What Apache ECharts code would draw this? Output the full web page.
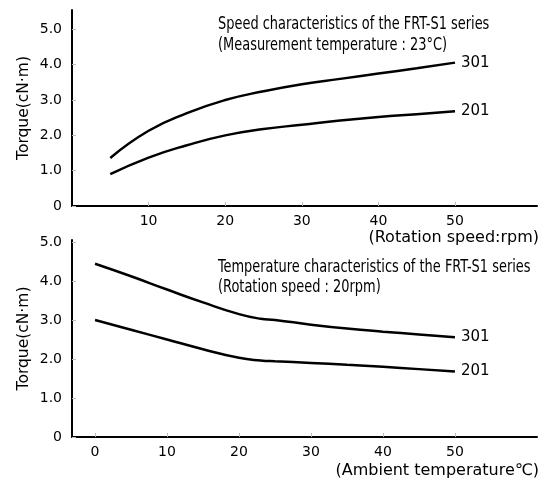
<!DOCTYPE html>
<html><head><meta charset="utf-8">
<script src="https://cdn.jsdelivr.net/npm/echarts@6/dist/echarts.min.js"></script>
<style>html,body{margin:0;padding:0;background:#fff}#c{width:546px;height:481px}</style>
</head><body><div id="c"></div>
<script>
// Top chart: speed characteristics
const speedX = [5, 10, 15, 20, 25, 30, 35, 40, 45, 50];
const speed301 = [1.36, 2.13, 2.63, 3.0, 3.25, 3.45, 3.6, 3.75, 3.9, 4.06];
const speed201 = [0.9, 1.37, 1.72, 2.0, 2.18, 2.3, 2.42, 2.52, 2.6, 2.68];
// Bottom chart: temperature characteristics
const tempX = [0, 5, 10, 15, 20, 23, 25, 30, 35, 40, 45, 50];
const temp301 = [4.44, 4.12, 3.78, 3.45, 3.15, 3.03, 3.0, 2.88, 2.78, 2.7, 2.63, 2.56];
const temp201 = [3.0, 2.75, 2.5, 2.25, 2.03, 1.96, 1.94, 1.9, 1.85, 1.8, 1.74, 1.68];
const topXTicks = [10, 20, 30, 40, 50];
const bottomXTicks = [0, 10, 20, 30, 40, 50];
const yTicks = [0, 1, 2, 3, 4, 5];
const topTitle = ['Speed characteristics of the FRT-S1 series', '(Measurement temperature : 23°C)'];
const bottomTitle = ['Temperature characteristics of the FRT-S1 series', '(Rotation speed : 20rpm)'];

const FONT = 'DejaVu Sans';
const TFONT = "'DejaVu Sans Condensed', 'Liberation Sans Narrow', 'Roboto Condensed', sans-serif";
const chart = echarts.init(document.getElementById('c'));
const yFmt = v => v === 0 ? '0' : v.toFixed(1);
function xAxis(idx, min, max, ticks, name, pad) {
  return {
    type: 'value', gridIndex: idx, min: min, max: max,
    axisLine: {show: true, onZero: false, lineStyle: {color: '#000', width: 2}},
    axisTick: {show: true, inside: true, length: 4, lineStyle: {color: '#bbb'}, customValues: ticks},
    axisLabel: {color: '#000', fontFamily: FONT, fontSize: 14, margin: 8, customValues: ticks},
    splitLine: {show: false},
    name: name, nameLocation: 'end', nameGap: 2, nameMoveOverlap: false,
    nameTextStyle: {color: '#000', fontFamily: FONT, fontSize: 16, align: 'right', verticalAlign: 'top', padding: [pad, 0, 0, 0]}
  };
}
function yAxis(idx, max) {
  return {
    type: 'value', gridIndex: idx, min: 0, max: max,
    axisLine: {show: true, onZero: false, lineStyle: {color: '#000', width: 2}},
    axisTick: {show: true, inside: true, length: 4, lineStyle: {color: '#bbb'}, customValues: yTicks},
    axisLabel: {color: '#000', fontFamily: FONT, fontSize: 14, margin: 10, formatter: yFmt, customValues: yTicks},
    splitLine: {show: false},
    name: 'Torque(cN·m)', nameLocation: 'middle', nameGap: 40, nameRotate: 90, nameMoveOverlap: false,
    nameTextStyle: {color: '#000', fontFamily: FONT, fontSize: 15.5}
  };
}
function line(name, xs, ys, xi, yi) {
  return {
    type: 'line', name: name, xAxisIndex: xi, yAxisIndex: yi,
    data: xs.map((x, i) => [x, ys[i]]),
    smooth: 0.5, showSymbol: false, silent: true,
    lineStyle: {color: '#000', width: 2.5},
    endLabel: {show: true, formatter: '{a}', color: '#000', fontFamily: FONT, fontSize: 15, distance: 6}
  };
}
function titleText(text, x, y) {
  return {type: 'text', x: x, y: y, scaleX: 0.8, silent: true,
    style: {text: text, fontFamily: TFONT, fontSize: 18, fill: '#000', verticalAlign: 'middle', align: 'left'}};
}
chart.setOption({
  animation: false,
  graphic: [
    titleText(topTitle[0], 218, 24),
    titleText(topTitle[1], 218, 45),
    titleText(bottomTitle[0], 218, 267),
    titleText(bottomTitle[1], 218, 287)
  ],
  grid: [
    {left: 72, width: 465, top: 10, height: 196},
    {left: 72, width: 465, top: 240, height: 197}
  ],
  xAxis: [
    xAxis(0, 0, 60.7, topXTicks, '(Rotation speed:rpm)', 24),
    xAxis(1, -3.2, 61.4, bottomXTicks, '(Ambient temperature℃)', 26)
  ],
  yAxis: [yAxis(0, 5.55), yAxis(1, 5.05)],
  series: [
    line('301', speedX, speed301, 0, 0),
    line('201', speedX, speed201, 0, 0),
    line('301', tempX, temp301, 1, 1),
    line('201', tempX, temp201, 1, 1)
  ]
});
</script></body></html>
